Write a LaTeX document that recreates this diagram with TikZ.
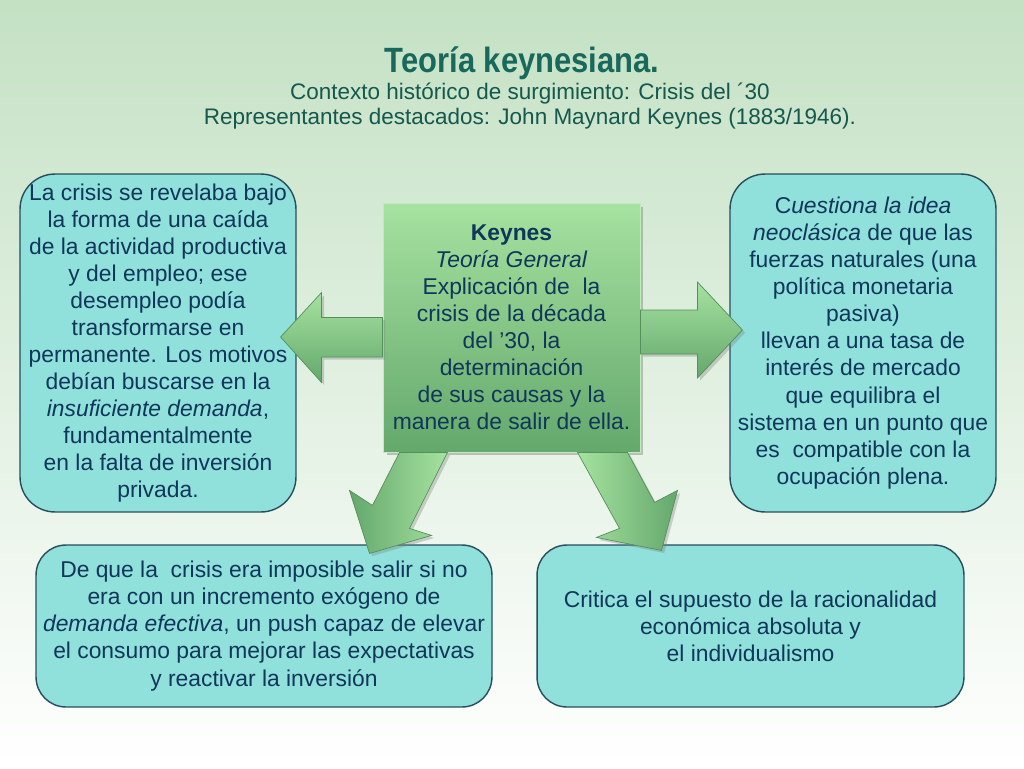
\documentclass[tikz,border=0pt]{standalone}
\usepackage{fontspec}
\setmainfont{Liberation Sans}
\newfontfamily\titfont[FakeStretch=0.88]{Liberation Sans}
\usetikzlibrary{shadows}
\definecolor{fondo}{RGB}{196,225,196}
\definecolor{titulo}{RGB}{24,104,92}
\definecolor{celeste}{RGB}{144,224,220}
\definecolor{borde}{RGB}{38,78,92}
\definecolor{tinta}{RGB}{16,54,90}
\definecolor{verdeclaro}{RGB}{166,226,160}
\definecolor{verdeoscuro}{RGB}{100,168,108}

\tikzset{
	caja/.style={draw=borde, line width=0.8pt, fill=celeste, rounded corners=0.7cm,
		text=tinta, align=center, inner sep=0pt, font=\fontsize{13}{15.4}\selectfont},
	central/.style={draw=verdeclaro!70!white, line width=0.5pt, top color=verdeclaro,
		bottom color=verdeoscuro, text=tinta, align=center, inner sep=0pt,
		font=\fontsize{13}{15.4}\selectfont,
		drop shadow={opacity=0.45, shadow xshift=2pt, shadow yshift=-2pt}},
	flecha/.style={draw=verdeoscuro!85!black, line width=0.4pt, line join=miter,
		drop shadow={opacity=0.35, shadow xshift=1.5pt, shadow yshift=-1.5pt}}
}

\begin{document}
\begin{tikzpicture}[x=0.02cm, y=-0.02cm]
		\useasboundingbox (0,0) rectangle (1024,768);
		\shade[top color=fondo, middle color=fondo!55!white, bottom color=white] (0,0) rectangle (1024,768);
		
		% titulo
		\node[text=titulo, font=\titfont\bfseries\fontsize{20}{24}\selectfont] (tit) at (522,63) {Teoría keynesiana.};
		\node[text=titulo!85!black, font=\fontsize{12.8}{15}\selectfont] (ctx) at (530,94) {Contexto histórico de surgimiento: Crisis del ´30};
		\node[text=titulo!85!black, font=\fontsize{12.8}{15}\selectfont] (rep) at (530,119) {Representantes destacados: John Maynard Keynes (1883/1946).};
		
		% cajas laterales
		\node[caja, minimum width=5.52cm, minimum height=6.76cm] (crisis) at (158,343)
		{La crisis se revelaba bajo\\ la forma de una caída\\ de la actividad productiva\\ y del empleo; ese\\ desempleo podía\\ transformarse en\\ permanente. Los motivos\\ debían buscarse en la\\ \textit{insuficiente demanda},\\ fundamentalmente\\ en la falta de inversión\\ privada.};
		
		\node[caja, minimum width=5.32cm, minimum height=6.76cm] (neo) at (863,343)
		{C\textit{uestiona la idea}\\ \textit{neoclásica} de que las\\ fuerzas naturales (una\\ política monetaria\\ pasiva)\\ llevan a una tasa de\\ interés de mercado\\ que equilibra el\\ sistema en un punto que\\ es\ \ compatible con la\\ ocupación plena.};
		
		\node[caja, rounded corners=0.6cm, minimum width=9.12cm, minimum height=3.24cm] (push) at (264,626)
		{De que la\ \ crisis era imposible salir si no\\ era con un incremento exógeno de\\ \textit{demanda efectiva}, un push capaz de elevar\\ el consumo para mejorar las expectativas\\ y reactivar la inversión};
		
		\node[caja, rounded corners=0.6cm, minimum width=8.54cm, minimum height=3.24cm] (racio) at (750.5,626)
		{Critica el supuesto de la racionalidad\\ económica absoluta y\\ el individualismo};
		
		% caja central
		\node[central, minimum width=5.14cm, minimum height=4.98cm] (keynes) at (511.5,327.5)
		{\textbf{Keynes}\\ \textit{Teoría General}\\ Explicación de\ \ la\\ crisis de la década\\ del ’30, la\\ determinación\\ de sus causas y la\\ manera de salir de ella.};
		
		% flechas
		\draw[flecha, top color=verdeclaro, bottom color=verdeoscuro, shift={(keynes.west)}]
		(0,-10) -- (-61,-10) -- (-61,-35) -- (-102,9.5) -- (-61,55) -- (-61,29.5) -- (0,29.5) -- cycle;
		
		\draw[flecha, top color=verdeclaro, bottom color=verdeoscuro, shift={(keynes.east)}]
		(0,-17.5) -- (57,-17.5) -- (57,-45.5) -- (102,2.5) -- (57,50.5) -- (57,26.5) -- (0,26.5) -- cycle;
		
		\draw[flecha, left color=verdeoscuro, right color=verdeclaro, shift={(keynes.south)}]
		(-112,0) -- (-139,53) -- (-162,38) -- (-142,101) -- (-80,83) -- (-102,76) -- (-64,0) -- cycle;
		
		\draw[flecha, left color=verdeclaro, right color=verdeoscuro, shift={(keynes.south)}]
		(66,0) -- (108,76) -- (85,85) -- (150,98) -- (166,38) -- (143,50) -- (116,0) -- cycle;
\end{tikzpicture}
\end{document}
